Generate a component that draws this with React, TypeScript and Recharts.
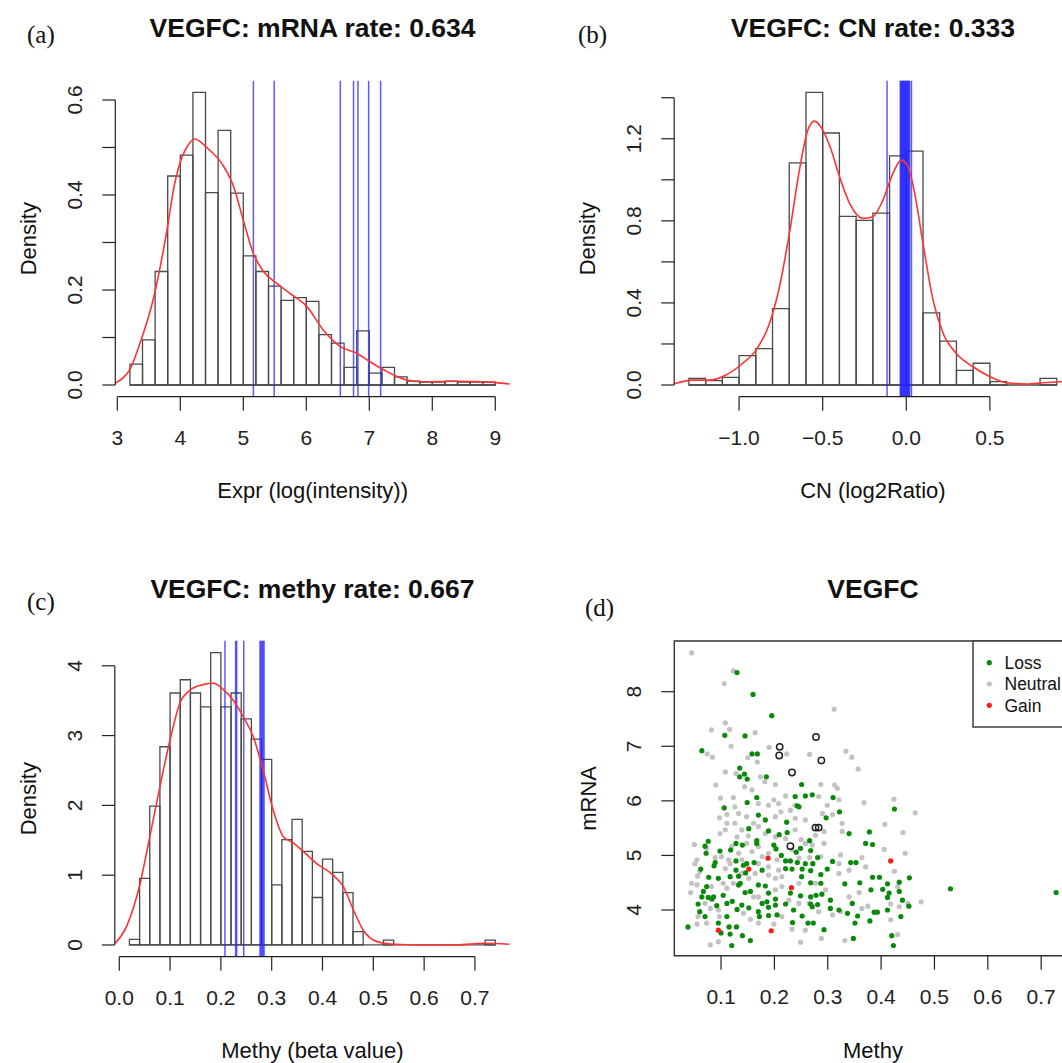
import {
  ComposedChart,
  XAxis,
  YAxis,
  Line,
  Scatter,
  ReferenceArea,
  ReferenceLine,
} from "recharts";

const SANS = "'Liberation Sans', Arial, Helvetica, sans-serif";
const SERIF = "'Liberation Serif', 'Times New Roman', serif";
const INK = "#222";
const BAR = "#4a4a4a";
const MARK = "#2424ff";
const DENS = "#ff3333";

// ---- (a) mRNA expression histogram ----
const mrnaBreaks = [
  3.2, 3.4, 3.6, 3.8, 4.0, 4.2, 4.4, 4.6, 4.8, 5.0, 5.2, 5.4, 5.6, 5.8, 6.0,
  6.2, 6.4, 6.6, 6.8, 7.0, 7.2, 7.4, 7.6, 7.8, 8.0, 8.2, 8.4, 8.6, 8.8, 9.0,
];
const mrnaDensity = [
  0.044, 0.095, 0.239, 0.44, 0.484, 0.616, 0.405, 0.536, 0.404, 0.272, 0.239,
  0.208, 0.178, 0.184, 0.176, 0.106, 0.088, 0.037, 0.114, 0.025, 0.037, 0.017,
  0.008, 0.006, 0.006, 0.008, 0.006, 0.006, 0.006,
];
const mrnaCurveX = [
  2.97, 3.1, 3.2, 3.36, 3.57, 3.78, 3.9, 4.0, 4.1, 4.23, 4.42, 4.69, 4.84, 5.0,
  5.16, 5.32, 5.53, 5.74, 6.01, 6.27, 6.54, 6.8, 7.01, 7.23, 7.44, 7.65, 7.86,
  8.39, 8.92, 9.23,
];
const mrnaCurveY = [
  0.004, 0.016, 0.033, 0.088, 0.18, 0.32, 0.417, 0.47, 0.5, 0.518, 0.5, 0.46,
  0.42, 0.347, 0.277, 0.239, 0.214, 0.193, 0.165, 0.116, 0.081, 0.067, 0.049,
  0.032, 0.018, 0.009, 0.007, 0.008, 0.006, 0.002,
];
const mrnaMarks = [5.16, 5.49, 6.54, 6.75, 6.82, 6.99, 7.18];
const mrnaXTicks = [3, 4, 5, 6, 7, 8, 9];
const mrnaXLabels = ["3", "4", "5", "6", "7", "8", "9"];
const mrnaYTicks = [0, 0.1, 0.2, 0.3, 0.4, 0.5, 0.6];
const mrnaYLabels = ["0.0", "", "0.2", "", "0.4", "", "0.6"];

// ---- (b) copy number histogram ----
const cnBreaks = [
  -1.3, -1.2, -1.1, -1.0, -0.9, -0.8, -0.7, -0.6, -0.5, -0.4, -0.3, -0.2, -0.1,
  0.0, 0.1, 0.2, 0.3, 0.4, 0.5, 0.6, 0.7, 0.8, 0.9,
];
const cnDensity = [
  0.032, 0.021, 0.037, 0.143, 0.177, 0.372, 1.083, 1.426, 1.228, 0.822, 0.802,
  0.838, 1.117, 1.14, 0.352, 0.214, 0.071, 0.106, 0.016, 0, 0, 0.032,
];
const cnCurveX = [
  -1.388, -1.277, -1.178, -1.078, -0.978, -0.898, -0.818, -0.758, -0.699,
  -0.639, -0.589, -0.549, -0.499, -0.449, -0.399, -0.339, -0.259, -0.2, -0.14,
  -0.08, -0.03, 0.01, 0.05, 0.1, 0.16, 0.22, 0.299, 0.399, 0.499, 0.599, 0.719,
  0.818, 0.928, 0.988,
];
const cnCurveY = [
  0.006, 0.024, 0.024, 0.049, 0.106, 0.171, 0.3, 0.48, 0.74, 1.048, 1.242,
  1.286, 1.242, 1.145, 1.015, 0.885, 0.812, 0.82, 0.901, 1.031, 1.096, 1.064,
  0.934, 0.69, 0.414, 0.252, 0.154, 0.089, 0.041, 0.011, 0.005, 0.011, 0.016,
  0.018,
];
const cnMarks = [
  -0.115, -0.036, -0.032, -0.028, -0.024, -0.02, -0.016, -0.012, -0.008,
  -0.004, 0.0, 0.004, 0.008, 0.012, 0.016, 0.02, 0.031,
];
const cnXTicks = [-1.0, -0.5, 0.0, 0.5];
const cnXLabels = ["\u22121.0", "\u22120.5", "0.0", "0.5"];
const cnYTicks = [0, 0.2, 0.4, 0.6, 0.8, 1.0, 1.2, 1.4];
const cnYLabels = ["0.0", "", "0.4", "", "0.8", "", "1.2", ""];

// ---- (c) methylation histogram ----
const methyBreaks = [
  0.02, 0.04, 0.06, 0.08, 0.1, 0.12, 0.14, 0.16, 0.18, 0.2, 0.22, 0.24, 0.26,
  0.28, 0.3, 0.32, 0.34, 0.36, 0.38, 0.4, 0.42, 0.44, 0.46, 0.48, 0.5, 0.52,
  0.54, 0.56, 0.58, 0.6, 0.62, 0.64, 0.66, 0.68, 0.7, 0.72, 0.74,
];
const methyDensity = [
  0.08, 0.955, 1.99, 2.84, 3.61, 3.8, 3.61, 3.41, 4.19, 3.41, 3.61, 3.24, 2.95,
  2.66, 0.86, 1.51, 1.8, 1.34, 0.68, 1.23, 1.04, 0.75, 0.19, 0, 0, 0.07, 0, 0,
  0, 0, 0, 0, 0, 0, 0, 0.07,
];
const methyCurveX = [
  -0.008, 0.014, 0.041, 0.06, 0.08, 0.1, 0.119, 0.139, 0.165, 0.185, 0.205,
  0.224, 0.244, 0.264, 0.283, 0.303, 0.323, 0.343, 0.362, 0.388, 0.421, 0.441,
  0.461, 0.48, 0.507, 0.533, 0.598, 0.664, 0.717, 0.768,
];
const methyCurveY = [
  0.024, 0.26, 0.88, 1.55, 2.27, 2.94, 3.46, 3.65, 3.73, 3.75, 3.66, 3.51,
  3.27, 2.98, 2.51, 1.93, 1.55, 1.46, 1.34, 1.17, 1.0, 0.835, 0.5, 0.215,
  0.048, 0.014, 0.0, 0.0, 0.024, 0.01,
];
const methyMarks = [0.208, 0.229, 0.231, 0.245, 0.277, 0.279, 0.281, 0.283, 0.285];
const methyXTicks = [0, 0.1, 0.2, 0.3, 0.4, 0.5, 0.6, 0.7];
const methyXLabels = ["0.0", "0.1", "0.2", "0.3", "0.4", "0.5", "0.6", "0.7"];
const methyYTicks = [0, 1, 2, 3, 4];
const methyYLabels = ["0", "1", "2", "3", "4"];

// ---- (d) methylation vs mRNA scatter: [methy, mRNA] ----
const lossPoints: [number, number][] = [
  [0.13, 8.35], [0.16, 7.95], [0.195, 7.56], [0.107, 7.2], [0.145, 7.19],
  [0.064, 6.92], [0.158, 6.86], [0.168, 6.86], [0.135, 6.6], [0.144, 6.49],
  [0.135, 6.44], [0.149, 6.4], [0.185, 6.44], [0.251, 6.3], [0.167, 6.06],
  [0.149, 5.97], [0.106, 5.87], [0.239, 6.08], [0.258, 6.09], [0.271, 6.11],
  [0.31, 6.06], [0.243, 5.91], [0.246, 5.89], [0.322, 5.8], [0.425, 5.85],
  [0.17, 5.74], [0.183, 5.65], [0.152, 5.49], [0.223, 5.61], [0.189, 5.45],
  [0.297, 5.69], [0.34, 5.4], [0.378, 5.43], [0.371, 5.22], [0.384, 5.2],
  [0.266, 5.27], [0.224, 5.42], [0.209, 5.38], [0.167, 5.27], [0.167, 5.22],
  [0.128, 5.22], [0.076, 5.26], [0.07, 5.17], [0.098, 5.08], [0.118, 5.1],
  [0.072, 5.04], [0.14, 5.19], [0.199, 5.19], [0.203, 5.12], [0.249, 5.13],
  [0.213, 5.0], [0.241, 5.06], [0.268, 5.09], [0.281, 4.96], [0.089, 4.87],
  [0.087, 4.81], [0.062, 4.75], [0.128, 4.9], [0.142, 4.82], [0.148, 4.85],
  [0.162, 4.87], [0.221, 4.9], [0.23, 4.9], [0.243, 4.87], [0.258, 4.85],
  [0.272, 4.85], [0.309, 4.89], [0.343, 4.87], [0.353, 4.87], [0.299, 4.75],
  [0.252, 4.75], [0.268, 4.72], [0.287, 4.65], [0.233, 4.75], [0.221, 4.76],
  [0.177, 4.73], [0.146, 4.68], [0.128, 4.73], [0.117, 4.61], [0.095, 4.58],
  [0.077, 4.6], [0.133, 4.62], [0.133, 4.46], [0.136, 4.49], [0.145, 4.32],
  [0.155, 4.34], [0.17, 4.46], [0.183, 4.44], [0.189, 4.31], [0.186, 4.15],
  [0.202, 4.2], [0.23, 4.31], [0.251, 4.61], [0.268, 4.5], [0.287, 4.49],
  [0.249, 4.26], [0.268, 4.24], [0.278, 4.27], [0.289, 4.29], [0.305, 4.18],
  [0.332, 4.48], [0.36, 4.5], [0.384, 4.6], [0.397, 4.6], [0.381, 4.37],
  [0.403, 4.38], [0.412, 4.48], [0.415, 4.31], [0.434, 4.51], [0.453, 4.59],
  [0.434, 4.34], [0.412, 4.23], [0.44, 4.18], [0.452, 4.07], [0.412, 4.0],
  [0.387, 3.96], [0.393, 3.96], [0.437, 3.88], [0.346, 4.12], [0.321, 4.0],
  [0.356, 3.89], [0.337, 3.94], [0.305, 4.03], [0.281, 4.1], [0.268, 4.11],
  [0.221, 4.11], [0.202, 4.09], [0.189, 4.05], [0.177, 4.12], [0.17, 3.97],
  [0.172, 3.88], [0.189, 3.9], [0.205, 3.91], [0.236, 4.0], [0.252, 3.89],
  [0.271, 4.06], [0.152, 4.04], [0.139, 4.09], [0.121, 4.16], [0.111, 4.12],
  [0.092, 4.08], [0.076, 4.23], [0.083, 4.2], [0.064, 4.24], [0.057, 4.11],
  [0.06, 3.97], [0.07, 3.88], [0.111, 3.88], [0.13, 4.01], [0.115, 3.69],
  [0.129, 3.69], [0.095, 3.76], [0.1, 3.58], [0.117, 3.56], [0.14, 3.53],
  [0.155, 3.44], [0.12, 3.35], [0.038, 3.69], [0.234, 3.77], [0.263, 3.76],
  [0.273, 3.76], [0.293, 3.64], [0.351, 3.76], [0.379, 3.8], [0.348, 3.48],
  [0.42, 3.53], [0.423, 3.35], [0.53, 4.39], [0.728, 4.32], [0.067, 4.34],
  [0.073, 4.43], [0.086, 4.24], [0.104, 4.27],
];
const neutralPoints: [number, number][] = [
  [0.045, 8.71], [0.123, 8.38], [0.106, 8.15], [0.312, 7.68], [0.108, 7.43],
  [0.116, 7.31], [0.082, 7.3], [0.164, 7.25], [0.119, 7.0], [0.19, 6.98],
  [0.074, 6.86], [0.084, 6.8], [0.15, 6.79], [0.168, 6.71], [0.223, 6.86],
  [0.266, 6.85], [0.334, 6.91], [0.345, 6.8], [0.357, 6.58], [0.108, 6.53],
  [0.128, 6.5], [0.174, 6.44], [0.182, 6.35], [0.202, 6.3], [0.158, 6.2],
  [0.09, 6.29], [0.144, 6.26], [0.287, 6.3], [0.313, 6.29], [0.318, 6.23],
  [0.221, 6.09], [0.199, 6.02], [0.208, 5.95], [0.126, 5.89], [0.099, 6.05],
  [0.123, 6.06], [0.17, 5.95], [0.189, 5.92], [0.239, 5.92], [0.283, 6.08],
  [0.321, 6.02], [0.299, 5.92], [0.368, 5.97], [0.424, 6.03], [0.464, 5.78],
  [0.133, 5.77], [0.111, 5.75], [0.097, 5.69], [0.126, 5.59], [0.111, 5.59],
  [0.148, 5.71], [0.161, 5.59], [0.17, 5.53], [0.202, 5.71], [0.212, 5.8],
  [0.23, 5.83], [0.239, 5.68], [0.258, 5.65], [0.29, 5.77], [0.309, 5.75],
  [0.327, 5.59], [0.277, 5.37], [0.293, 5.44], [0.327, 5.44], [0.407, 5.57],
  [0.441, 5.42], [0.139, 5.47], [0.151, 5.36], [0.13, 5.34], [0.098, 5.4],
  [0.108, 5.47], [0.183, 5.4], [0.221, 5.31], [0.239, 5.47], [0.25, 5.29],
  [0.271, 5.19], [0.293, 5.22], [0.324, 5.01], [0.364, 4.96], [0.406, 5.11],
  [0.445, 5.04], [0.05, 5.2], [0.051, 4.85], [0.055, 4.92], [0.073, 5.13],
  [0.089, 4.96], [0.101, 4.98], [0.114, 4.92], [0.133, 5.04], [0.158, 5.07],
  [0.177, 4.98], [0.189, 5.04], [0.205, 4.92], [0.246, 4.95], [0.266, 4.96],
  [0.287, 4.98], [0.321, 4.85], [0.371, 4.79], [0.425, 4.71], [0.431, 4.43],
  [0.056, 4.62], [0.06, 4.7], [0.108, 4.76], [0.117, 4.85], [0.139, 4.67],
  [0.164, 4.67], [0.189, 4.64], [0.202, 4.58], [0.214, 4.61], [0.246, 4.49],
  [0.277, 4.49], [0.296, 4.37], [0.321, 4.67], [0.34, 4.24], [0.359, 4.32],
  [0.375, 4.07], [0.34, 4.73], [0.045, 4.49], [0.043, 4.32], [0.055, 4.46],
  [0.07, 4.12], [0.08, 4.03], [0.082, 4.43], [0.104, 4.49], [0.111, 4.4],
  [0.123, 4.49], [0.152, 4.58], [0.161, 4.24], [0.17, 4.24], [0.202, 4.37],
  [0.214, 4.43], [0.227, 4.18], [0.246, 4.12], [0.265, 4.12], [0.283, 3.97],
  [0.309, 3.91], [0.324, 3.97], [0.364, 4.03], [0.418, 4.11], [0.434, 4.06],
  [0.45, 4.12], [0.475, 4.15], [0.057, 3.88], [0.055, 3.74], [0.073, 3.76],
  [0.097, 3.88], [0.095, 3.42], [0.08, 3.36], [0.155, 3.83], [0.17, 3.76],
  [0.199, 3.74], [0.233, 3.65], [0.249, 3.41], [0.258, 3.63], [0.288, 3.48],
  [0.332, 3.44], [0.431, 3.55], [0.418, 3.82], [0.095, 4.0], [0.142, 3.94],
  [0.214, 3.88], [0.139, 4.92], [0.17, 4.85], [0.189, 4.79], [0.208, 4.73],
  [0.12, 5.16], [0.148, 5.22], [0.17, 5.16], [0.233, 5.1], [0.258, 5.22],
  [0.202, 5.34],
];
const gainPoints: [number, number][] = [
  [0.188, 4.95], [0.152, 4.75], [0.232, 4.41], [0.418, 4.9], [0.095, 3.63],
  [0.194, 3.62],
];
const mutatedPoints: [number, number][] = [
  [0.21, 6.99], [0.209, 6.83], [0.233, 6.52], [0.278, 7.17], [0.288, 6.74],
  [0.277, 5.51], [0.283, 5.51], [0.23, 5.17],
];
const scatterXTicks = [0.1, 0.2, 0.3, 0.4, 0.5, 0.6, 0.7];
const scatterXLabels = ["0.1", "0.2", "0.3", "0.4", "0.5", "0.6", "0.7"];
const scatterYTicks = [4, 5, 6, 7, 8];
const scatterYLabels = ["4", "5", "6", "7", "8"];
const legendNames = ["Loss", "Neutral", "Gain"];
const legendColors = ["#0a8a0a", "#c2c2c2", "#ff1a1a"];

interface Frame {
  left: number;
  top: number;
  width: number;
  height: number;
  pl: number;
  pt: number;
  pr: number;
  pb: number;
}

const X_AXIS_H = 60;

function pick(ticks: number[], labels: string[], v: number) {
  const i = ticks.indexOf(v);
  return i >= 0 ? labels[i] : "";
}

function RotTick(props: any) {
  const { x, y, payload, ticks, labels } = props;
  const txt = pick(ticks, labels, payload.value);
  return (
    <g transform={`translate(${x},${y}) rotate(-90)`}>
      <text
        x={0}
        y={0}
        textAnchor="middle"
        fontSize={21}
        fill={INK}
        fontFamily={SANS}
      >
        {txt}
      </text>
    </g>
  );
}

function chartMargin(f: Frame) {
  return {
    top: f.pt,
    right: f.width - f.pr,
    bottom: f.height - f.pb - X_AXIS_H,
    left: 0,
  };
}

interface HistProps {
  f: Frame;
  xDomain: [number, number];
  yDomain: [number, number];
  breaks: number[];
  density: number[];
  curveX: number[];
  curveY: number[];
  marks: number[];
  xTicks: number[];
  xLabels: string[];
  yTicks: number[];
  yLabels: string[];
}

function HistPanel(p: HistProps) {
  const { f } = p;
  const bins = p.density.map((d, i) => ({
    x1: p.breaks[i],
    x2: p.breaks[i + 1],
    d,
  }));
  const curve = p.curveX.map((x, i) => ({ x, y: p.curveY[i] }));
  const yMin = p.yDomain[0];
  const xMin = p.xDomain[0];
  return (
    <div style={{ position: "absolute", left: f.left, top: f.top }}>
      <ComposedChart width={f.width} height={f.height} margin={chartMargin(f)}>
        <XAxis
          type="number"
          dataKey="x"
          domain={p.xDomain}
          allowDataOverflow
          ticks={p.xTicks}
          interval={0}
          tickFormatter={(v) => pick(p.xTicks, p.xLabels, v)}
          axisLine={false}
          tickLine={{ stroke: INK, strokeWidth: 1.2 }}
          tickSize={14}
          tickMargin={19}
          height={X_AXIS_H}
          tick={{ fill: INK, fontSize: 21, fontFamily: SANS }}
        />
        <YAxis
          type="number"
          dataKey="y"
          domain={p.yDomain}
          allowDataOverflow
          ticks={p.yTicks}
          interval={0}
          axisLine={false}
          tickLine={{ stroke: INK, strokeWidth: 1.2 }}
          tickSize={13}
          tickMargin={20}
          width={f.pl}
          tick={(t: any) => (
            <RotTick {...t} ticks={p.yTicks} labels={p.yLabels} />
          )}
        />
        {bins.map((b) => (
          <ReferenceArea
            key={`bin-${b.x1}`}
            x1={b.x1}
            x2={b.x2}
            y1={0}
            y2={b.d}
            fill="none"
            fillOpacity={0}
            stroke={BAR}
            strokeWidth={1.3}
            ifOverflow="visible"
          />
        ))}
        <ReferenceLine
          segment={[
            { x: p.breaks[0], y: 0 },
            { x: p.breaks[p.breaks.length - 1], y: 0 },
          ]}
          stroke={BAR}
          strokeWidth={1.3}
          ifOverflow="visible"
        />
        {p.marks.map((m) => (
          <ReferenceLine
            key={`mark-${m}`}
            x={m}
            stroke={MARK}
            strokeWidth={1.5}
            strokeOpacity={0.75}
            ifOverflow="visible"
          />
        ))}
        <Line
          data={curve}
          dataKey="y"
          type="monotone"
          stroke={DENS}
          strokeWidth={1.6}
          dot={false}
          isAnimationActive={false}
        />
        <ReferenceLine
          segment={[
            { x: p.xTicks[0], y: yMin },
            { x: p.xTicks[p.xTicks.length - 1], y: yMin },
          ]}
          stroke={INK}
          strokeWidth={1.2}
          ifOverflow="visible"
        />
        <ReferenceLine
          segment={[
            { x: xMin, y: p.yTicks[0] },
            { x: xMin, y: p.yTicks[p.yTicks.length - 1] },
          ]}
          stroke={INK}
          strokeWidth={1.2}
          ifOverflow="visible"
        />
      </ComposedChart>
    </div>
  );
}

function dotShape(fill: string) {
  return (s: any) => <circle cx={s.cx} cy={s.cy} r={2.6} fill={fill} />;
}

function ScatterPanel({ f }: { f: Frame }) {
  const xDomain: [number, number] = [0.0124, 0.7576];
  const yDomain: [number, number] = [3.163, 8.929];
  const toXY = (pts: [number, number][]) =>
    pts.map(([x, y]) => ({ x, y }));
  return (
    <div style={{ position: "absolute", left: f.left, top: f.top }}>
      <ComposedChart width={f.width} height={f.height} margin={chartMargin(f)}>
        <XAxis
          type="number"
          dataKey="x"
          domain={xDomain}
          allowDataOverflow
          ticks={scatterXTicks}
          interval={0}
          tickFormatter={(v) => pick(scatterXTicks, scatterXLabels, v)}
          axisLine={false}
          tickLine={{ stroke: INK, strokeWidth: 1.2 }}
          tickSize={14}
          tickMargin={19}
          height={X_AXIS_H}
          tick={{ fill: INK, fontSize: 21, fontFamily: SANS }}
        />
        <YAxis
          type="number"
          dataKey="y"
          domain={yDomain}
          allowDataOverflow
          ticks={scatterYTicks}
          interval={0}
          axisLine={false}
          tickLine={{ stroke: INK, strokeWidth: 1.2 }}
          tickSize={13}
          tickMargin={20}
          width={f.pl}
          tick={(t: any) => (
            <RotTick {...t} ticks={scatterYTicks} labels={scatterYLabels} />
          )}
        />
        <Scatter
          name="Neutral"
          data={toXY(neutralPoints)}
          shape={dotShape("#c2c2c2")}
          isAnimationActive={false}
        />
        <Scatter
          name="Loss"
          data={toXY(lossPoints)}
          shape={dotShape("#0a8a0a")}
          isAnimationActive={false}
        />
        <Scatter
          name="Gain"
          data={toXY(gainPoints)}
          shape={dotShape("#ff1a1a")}
          isAnimationActive={false}
        />
        <Scatter
          name="Mutated"
          data={toXY(mutatedPoints)}
          shape={(s: any) => (
            <circle
              cx={s.cx}
              cy={s.cy}
              r={3.2}
              fill="none"
              stroke="#222"
              strokeWidth={1.5}
            />
          )}
          isAnimationActive={false}
        />
        <ReferenceArea
          x1={xDomain[0]}
          x2={xDomain[1]}
          y1={yDomain[0]}
          y2={yDomain[1]}
          fill="none"
          fillOpacity={0}
          stroke="#333"
          strokeWidth={1.4}
          ifOverflow="visible"
        />
      </ComposedChart>
    </div>
  );
}

const frameA: Frame = { left: 0, top: 0, width: 531, height: 531, pl: 115.3, pt: 80.7, pr: 509.9, pb: 396.7 };
const frameB: Frame = { left: 540, top: 0, width: 540, height: 531, pl: 134.2, pt: 80.7, pr: 531.5, pb: 396.7 };
const frameC: Frame = { left: 0, top: 540, width: 531, height: 523, pl: 114.8, pt: 100.8, pr: 509.9, pb: 416.7 };
const frameD: Frame = { left: 540, top: 540, width: 540, height: 523, pl: 134.3, pt: 101, pr: 531.9, pb: 415.7 };

function Labels() {
  const title = { fontFamily: SANS, fontSize: 26.5, fontWeight: 700, fill: "#111", textAnchor: "middle" as const };
  const axisT = { fontFamily: SANS, fontSize: 22, fill: "#111", textAnchor: "middle" as const };
  const tag = { fontFamily: SERIF, fontSize: 25, fill: "#111" };
  return (
    <svg
      width={1062}
      height={1063}
      style={{ position: "absolute", left: 0, top: 0, pointerEvents: "none" }}
    >
      <text x={312.6} y={36.7} {...title}>VEGFC: mRNA rate: 0.634</text>
      <text x={872.9} y={36.7} {...title}>VEGFC: CN rate: 0.333</text>
      <text x={312.4} y={598} {...title}>VEGFC: methy rate: 0.667</text>
      <text x={873} y={598} {...title}>VEGFC</text>

      <text x={27} y={43.3} {...tag}>(a)</text>
      <text x={578} y={43.3} {...tag}>(b)</text>
      <text x={27} y={610} {...tag}>(c)</text>
      <text x={585} y={616} {...tag}>(d)</text>

      <text x={312.6} y={498.3} {...axisT}>Expr (log(intensity))</text>
      <text x={872.9} y={498.3} {...axisT}>CN (log2Ratio)</text>
      <text x={312.4} y={1058.3} {...axisT}>Methy (beta value)</text>
      <text x={873} y={1058.3} {...axisT}>Methy</text>

      <text transform="translate(36,238.7) rotate(-90)" {...axisT}>Density</text>
      <text transform="translate(595,238.7) rotate(-90)" {...axisT}>Density</text>
      <text transform="translate(35.5,798.7) rotate(-90)" {...axisT}>Density</text>
      <text transform="translate(595.5,798.4) rotate(-90)" {...axisT}>mRNA</text>

      <rect x={973} y={641} width={120} height={86} fill="#fff" stroke="#333" strokeWidth={1.4} />
      {legendNames.map((name, i) => (
        <g key={name}>
          <circle cx={989.3} cy={662.7 + i * 21.3} r={2.6} fill={legendColors[i]} />
          <text x={1004.5} y={669 + i * 21.3} fontFamily={SANS} fontSize={17.5} fill="#111">
            {name}
          </text>
        </g>
      ))}
    </svg>
  );
}

export default function App() {
  return (
    <div
      style={{
        position: "absolute",
        left: 0,
        top: 0,
        width: 1062,
        height: 1063,
        overflow: "hidden",
        background: "#fff",
      }}
    >
      <HistPanel
        f={frameA}
        xDomain={[2.968, 9.232]}
        yDomain={[-0.0246, 0.6406]}
        breaks={mrnaBreaks}
        density={mrnaDensity}
        curveX={mrnaCurveX}
        curveY={mrnaCurveY}
        marks={mrnaMarks}
        xTicks={mrnaXTicks}
        xLabels={mrnaXLabels}
        yTicks={mrnaYTicks}
        yLabels={mrnaYLabels}
      />
      <HistPanel
        f={frameB}
        xDomain={[-1.388, 0.988]}
        yDomain={[-0.057, 1.483]}
        breaks={cnBreaks}
        density={cnDensity}
        curveX={cnCurveX}
        curveY={cnCurveY}
        marks={cnMarks}
        xTicks={cnXTicks}
        xLabels={cnXLabels}
        yTicks={cnYTicks}
        yLabels={cnYLabels}
      />
      <HistPanel
        f={frameC}
        xDomain={[-0.0088, 0.7688]}
        yDomain={[-0.168, 4.358]}
        breaks={methyBreaks}
        density={methyDensity}
        curveX={methyCurveX}
        curveY={methyCurveY}
        marks={methyMarks}
        xTicks={methyXTicks}
        xLabels={methyXLabels}
        yTicks={methyYTicks}
        yLabels={methyYLabels}
      />
      <ScatterPanel f={frameD} />
      <Labels />
    </div>
  );
}
